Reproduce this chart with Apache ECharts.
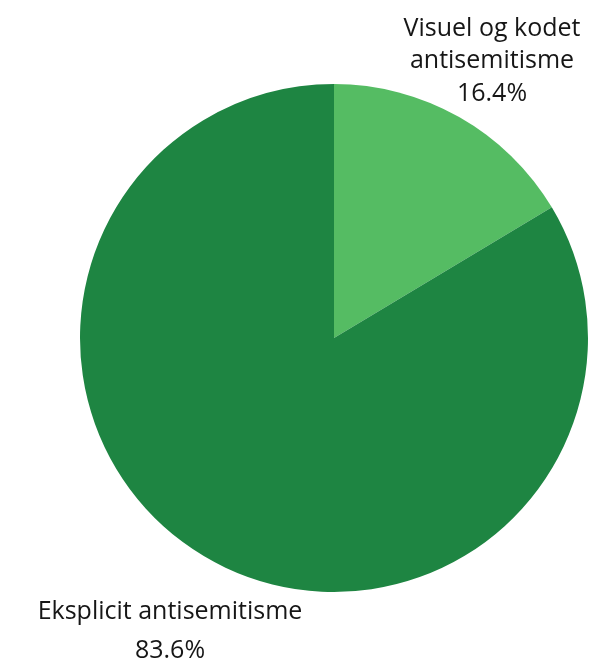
<!DOCTYPE html>
<html>
<head>
<meta charset="utf-8">
<script src="https://cdn.jsdelivr.net/npm/echarts@6/dist/echarts.min.js"></script>
<style>html,body{margin:0;padding:0;background:#fff}#c{width:593px;height:660px}</style>
</head>
<body>
<div id="c"></div>
<script>
const categories = ['Visuel og kodet\nantisemitisme', 'Eksplicit antisemitisme'];
const values = [16.4, 83.6];
const colors = ['#55bc63', '#1e8542'];

const labelPos = [[492, 61, 32.5], [170, 631, 39]];

const chart = echarts.init(document.getElementById('c'), null, {renderer: 'canvas'});
chart.setOption({
  animation: false,
  series: [{
    type: 'pie',
    center: [334, 338],
    radius: 254,
    startAngle: 90,
    clockwise: true,
    silent: true,
    labelLine: {show: false},
    data: categories.map((n, i) => ({
      name: n,
      value: values[i],
      itemStyle: {color: colors[i]},
      label: {
        rich: {
          n: {fontFamily: 'Open Sans', fontSize: 25, color: '#161616', lineHeight: labelPos[i][2]},
          v: {fontFamily: 'Open Sans', fontSize: 25, color: '#161616', lineHeight: labelPos[i][2]}
        }
      }
    })),
    label: {
      show: true,
      position: 'outside',
      align: 'center',
      overflow: 'none',
      width: 400,
      formatter: p => p.name.split('\n').map(s => '{n|' + s + '}').join('\n') + '\n{v|' + values[p.dataIndex].toFixed(1) + '%}'
    },
    labelLayout: p => ({
      x: labelPos[p.dataIndex][0],
      y: labelPos[p.dataIndex][1],
      align: 'center',
      verticalAlign: 'middle',
      hideOverlap: false
    })
  }]
});
</script>
</body>
</html>
